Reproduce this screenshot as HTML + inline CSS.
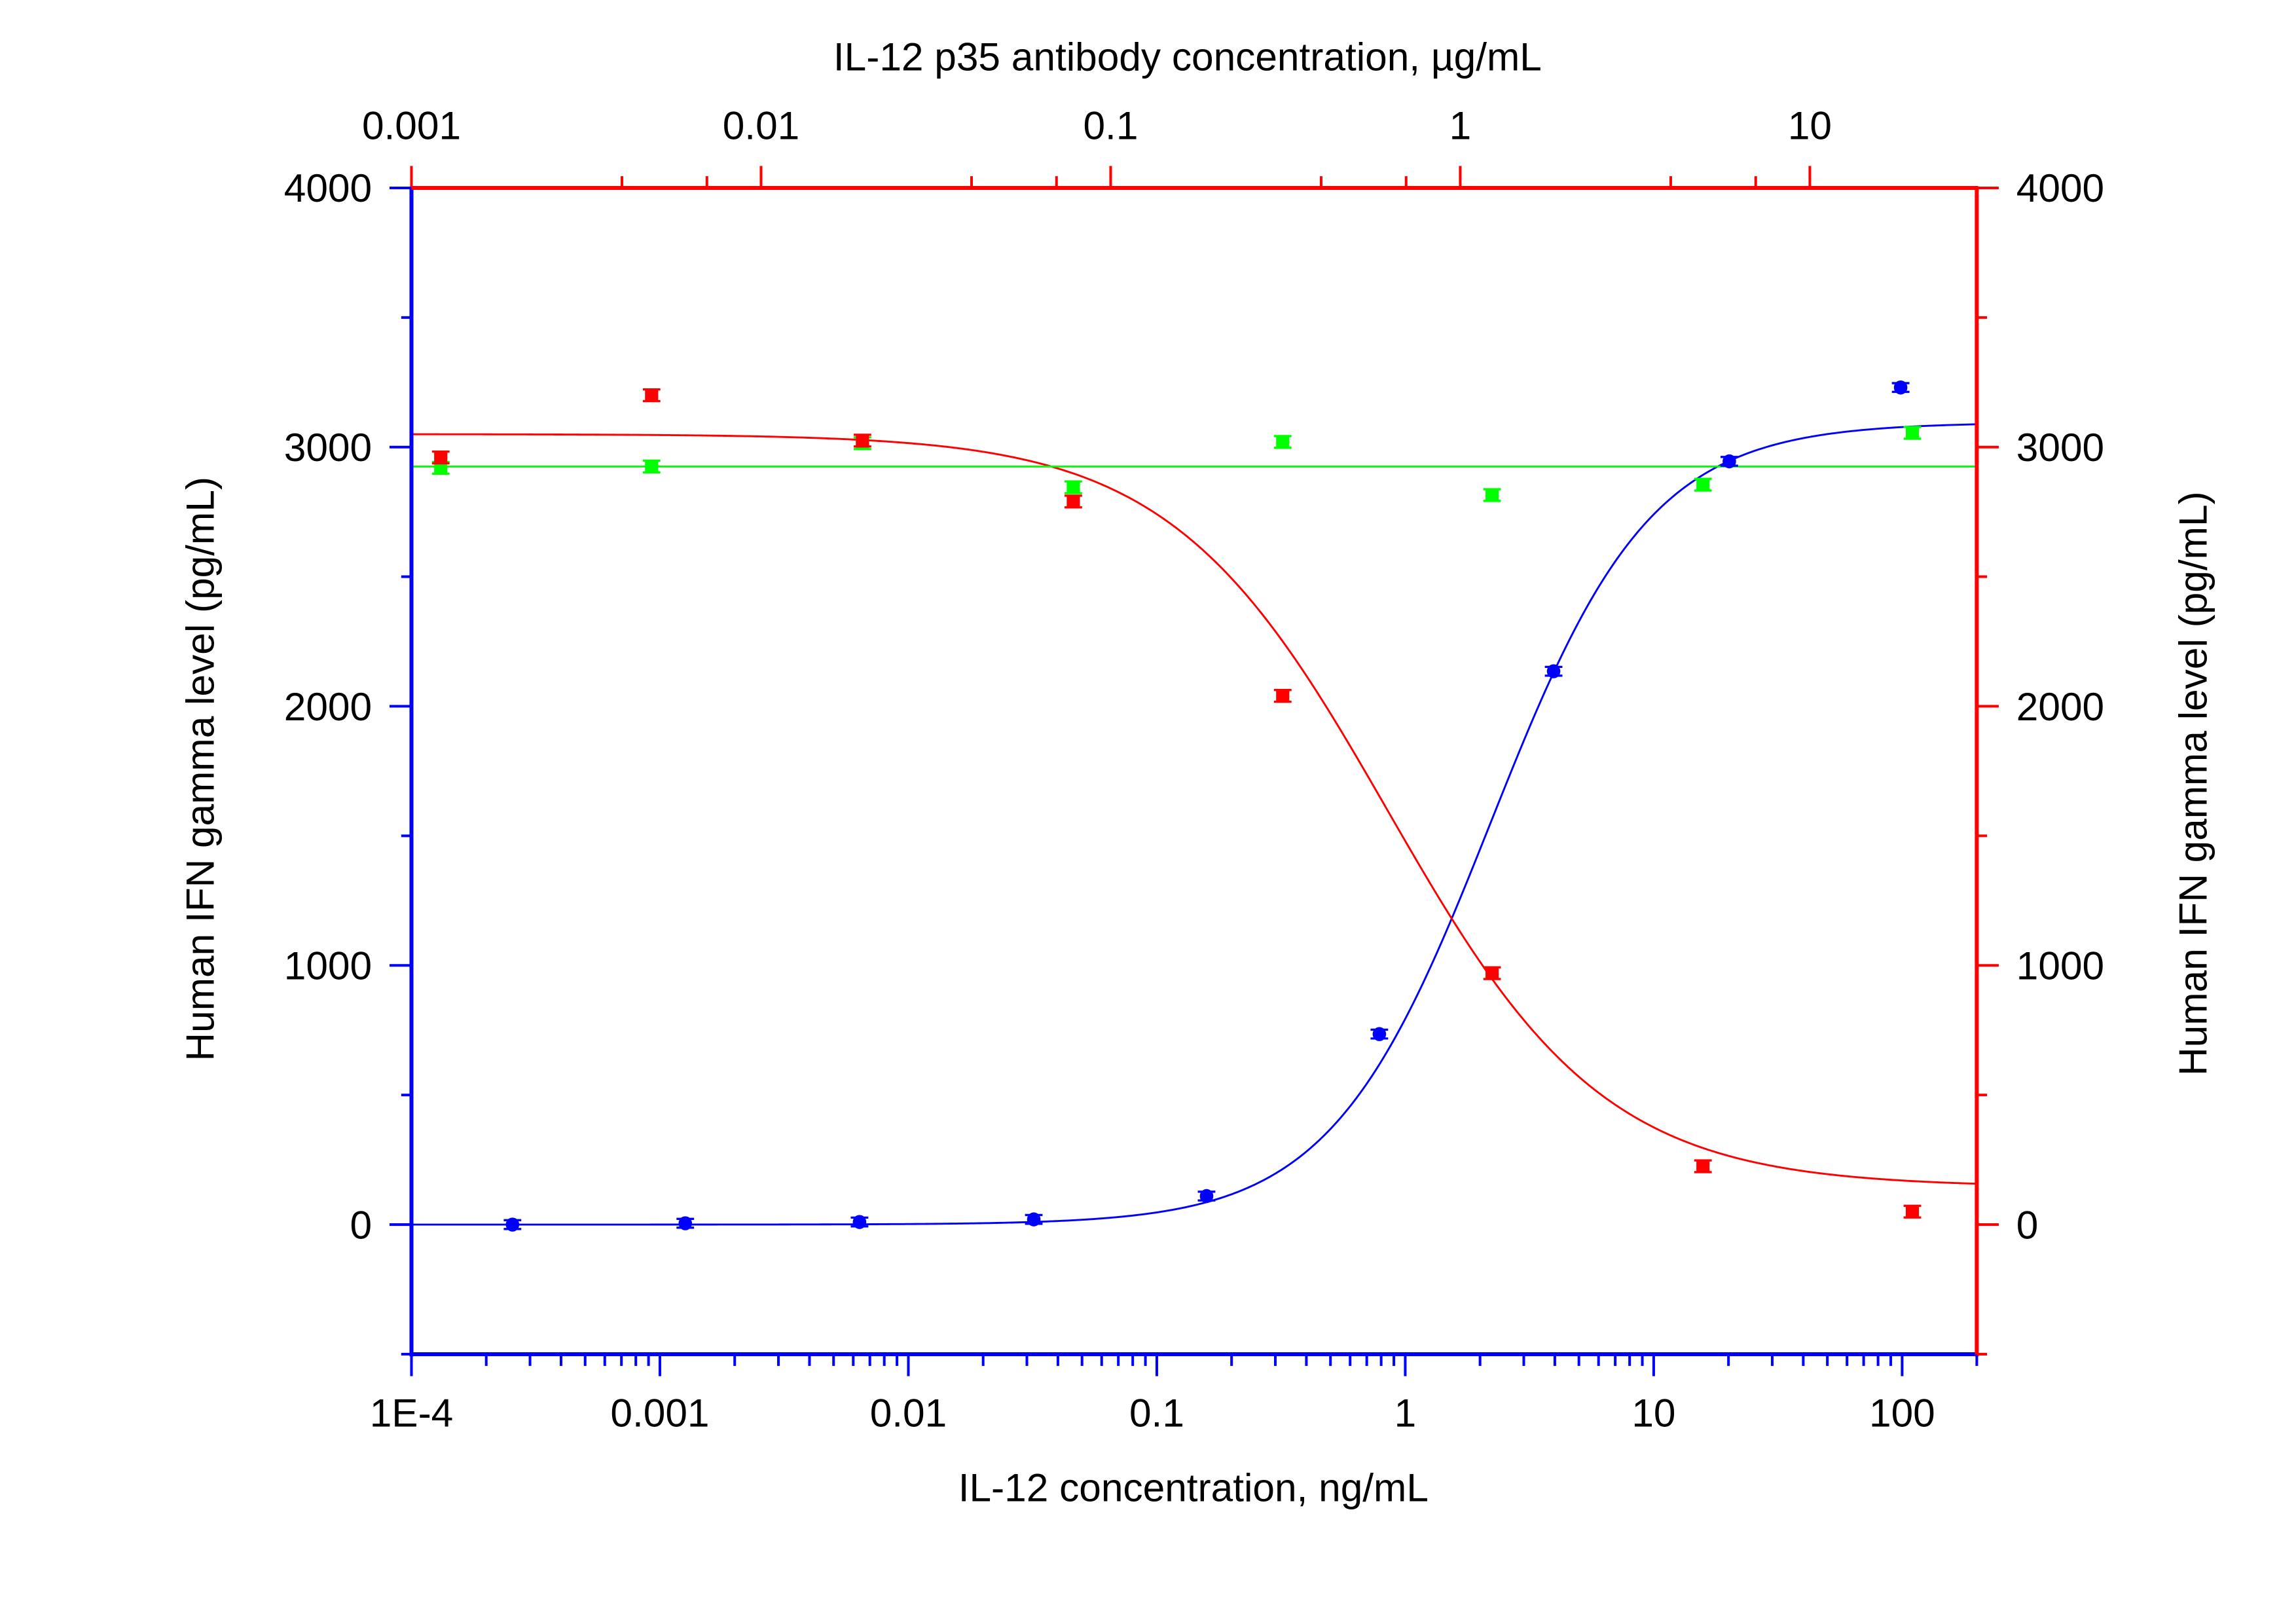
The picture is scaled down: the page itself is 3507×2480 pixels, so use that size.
<!DOCTYPE html>
<html><head><meta charset="utf-8"><style>
html,body{margin:0;padding:0;background:#fff;}
svg{display:block;}
text{font-family:"Liberation Sans",Arial,sans-serif;fill:#000;}
</style></head><body>
<svg id="s" width="3507" height="2480" viewBox="0 0 1568 1108.8" xmlns="http://www.w3.org/2000/svg">
<rect width="1568" height="1109" fill="#fff"/>
<g id="curves"></g>
<g id="pts"></g>
<g id="axes"></g>
<g font-size="27">
<text x="815" y="1025" text-anchor="middle">IL-12 concentration, ng/mL</text>
<text x="811" y="48" text-anchor="middle">IL-12 p35 antibody concentration, µg/mL</text>
<text transform="translate(146,525) rotate(-90)" text-anchor="middle">Human IFN gamma level (pg/mL)</text>
<text transform="translate(1507,535) rotate(-90)" text-anchor="middle">Human IFN gamma level (pg/mL)</text>
</g>
</svg>
<script>
var NS="http://www.w3.org/2000/svg";
function el(p,t,a,txt){var e=document.createElementNS(NS,t);for(var k in a)e.setAttribute(k,a[k]);if(txt!==undefined)e.textContent=txt;document.getElementById(p).appendChild(e);return e;}
var L=281,R=1350,T=128.3,B=924.6;
var dB=169.67,dT=238.75;
function xb(v){return L+(Math.log10(v)+4)*dB;}
function xt(v){return L+(Math.log10(v)+3)*dT;}
function y(v){return 836.1-v*0.17695;}
var pb="",pr="";
for(var px=L;px<=R;px+=2){
 var vb=Math.pow(10,(px-L)/dB-4);
 var yb=3095/(1+Math.pow(2.2/vb,1.35));
 pb+=(px==L?"M":"L")+px.toFixed(1)+","+y(yb).toFixed(2);
 var vt=Math.pow(10,(px-L)/dT-3);
 var yr=145+2905/(1+Math.pow(vt/0.62,1.4));
 pr+=(px==L?"M":"L")+px.toFixed(1)+","+y(yr).toFixed(2);
}
el("curves","path",{d:pb,stroke:"#0000ff","stroke-width":1.3,fill:"none"});
el("curves","path",{d:pr,stroke:"#ff0000","stroke-width":1.3,fill:"none"});
el("curves","line",{x1:L,x2:R,y1:y(2925),y2:y(2925),stroke:"#00ff00","stroke-width":1.3});
function eb(x,yy,c,e){el("pts","path",{d:"M"+(x-6)+","+(yy-e)+"h12M"+(x-6)+","+(yy+e)+"h12M"+x+","+(yy-e)+"V"+(yy+e),stroke:c,"stroke-width":1.5,fill:"none"});}
var bx=[350,468,587,706,824,942,1061,1181,1298],bv=[0,5,10,20,110,735,2135,2945,3230];
for(var i=0;i<bx.length;i++){var yy=y(bv[i]);eb(bx[i],yy,"#0000ff",3);el("pts","ellipse",{cx:bx[i],cy:yy,rx:4.6,ry:4.8,fill:"#0000ff"});}
var rx=[301,445,589,733,876,1019,1163,1306];
var rv=[2960,3200,3025,2790,2040,970,225,50],gv=[2920,2925,3015,2845,3020,2815,2855,3055];
for(var i=0;i<rx.length;i++){var yy=y(gv[i]);eb(rx[i],yy,"#00ff00",4);el("pts","rect",{x:rx[i]-4.5,y:yy-4.5,width:9,height:9,fill:"#00ff00"});}
for(var i=0;i<rx.length;i++){var yy=y(rv[i]);eb(rx[i],yy,"#ff0000",4);el("pts","rect",{x:rx[i]-4.5,y:yy-4.5,width:9,height:9,fill:"#ff0000"});}
var BL="#0000ff",RD="#ff0000";
el("axes","line",{x1:L,x2:L,y1:T-1,y2:B+1.5,stroke:BL,"stroke-width":2.7});
el("axes","line",{x1:L-1,x2:R+1,y1:B,y2:B,stroke:BL,"stroke-width":2.7});
el("axes","line",{x1:R,x2:R,y1:T,y2:B+1.5,stroke:RD,"stroke-width":2.7});
el("axes","line",{x1:L,x2:R+1,y1:T,y2:T,stroke:RD,"stroke-width":2.7});
var labs=["1E-4","0.001","0.01","0.1","1","10","100"];
for(var d=-4;d<=2;d++){
 var x=xb(Math.pow(10,d));
 el("axes","line",{x1:x,x2:x,y1:B,y2:B+15,stroke:BL,"stroke-width":1.8});
 el("axes","text",{x:x,y:974,"text-anchor":"middle","font-size":27},labs[d+4]);
 for(var m=2;m<=9;m++){var xm=xb(m*Math.pow(10,d));if(xm<=R){el("axes","line",{x1:xm,x2:xm,y1:B,y2:B+8,stroke:BL,"stroke-width":1.8});}}
}
el("axes","line",{x1:R,x2:R,y1:B,y2:B+8,stroke:BL,"stroke-width":1.8});
var tl=["0.001","0.01","0.1","1","10"];
for(var d=-3;d<=1;d++){
 var x=xt(Math.pow(10,d));
 el("axes","line",{x1:x,x2:x,y1:T,y2:T-15,stroke:RD,"stroke-width":1.8});
 el("axes","text",{x:x,y:95,"text-anchor":"middle","font-size":27},tl[d+3]);
 [4,7].forEach(function(m){var xm=xt(m*Math.pow(10,d));if(xm<=R)el("axes","line",{x1:xm,x2:xm,y1:T,y2:T-8,stroke:RD,"stroke-width":1.8});});
}
for(var v=-500;v<=4000;v+=500){
 var yy=y(v);var maj=(v%1000==0);
 el("axes","line",{x1:L,x2:L-(maj?15:7),y1:yy,y2:yy,stroke:BL,"stroke-width":1.8});
 el("axes","line",{x1:R,x2:R+(maj?15:7),y1:yy,y2:yy,stroke:RD,"stroke-width":1.8});
 if(maj){
  el("axes","text",{x:254,y:yy+9.5,"text-anchor":"end","font-size":27},String(v));
  el("axes","text",{x:1377,y:yy+9.5,"text-anchor":"start","font-size":27},String(v));
 }
}
</script>
</body></html>
